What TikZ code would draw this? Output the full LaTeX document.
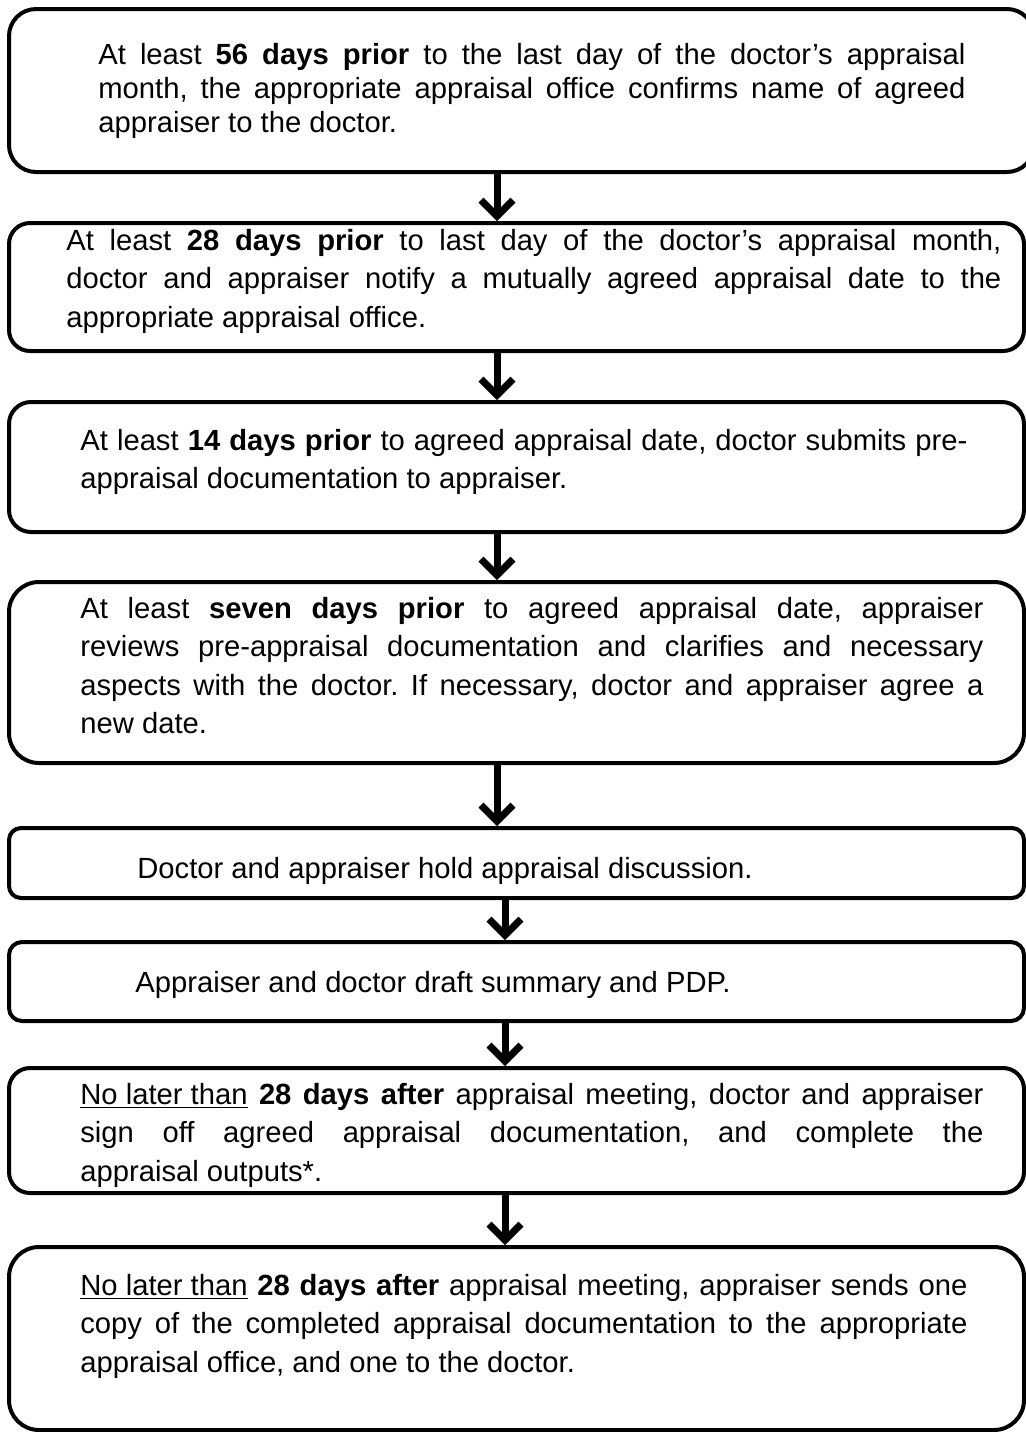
\documentclass[tikz,border=0pt]{standalone}
\usepackage{fontspec}
\setmainfont{Liberation Sans}
\usetikzlibrary{arrows.meta}
\frenchspacing

\begin{document}
\begin{tikzpicture}[
  x=0.5pt, y=-0.5pt,
  stepbox/.style={draw, line width=2pt, inner sep=0pt, minimum width=507.5pt},
  steptext/.style={anchor=base west, inner sep=0pt, align=justify, font=\fontsize{14.6}{19.3}\selectfont},
  flow/.style={-{Straight Barb[length=8pt, width=16pt]}, line width=3.5pt,
    preaction={draw=black!25, transform canvas={shift={(0.8pt,-0.8pt)}}}}
]
  \useasboundingbox (0,0) rectangle (1026,1432);
  \clip (0,0) rectangle (1026,1432);
  \coordinate (axis) at (497,0);
  \coordinate (axisb) at (505,0);

  % boxes
  \node[stepbox, minimum width=512.5pt, minimum height=81.5pt, rounded corners=13.5pt] (b1) at (521.5,90.5) {};
  \node[stepbox, minimum height=64pt, rounded corners=10.5pt] (b2) at (516.5,287) {};
  \node[stepbox, minimum height=65pt, rounded corners=11pt] (b3) at (516.5,467) {};
  \node[stepbox, minimum height=90.5pt, rounded corners=15pt] (b4) at (516.5,672.5) {};
  \node[stepbox, minimum height=35pt, rounded corners=6pt] (b5) at (516.5,863) {};
  \node[stepbox, minimum height=39.5pt, rounded corners=6.5pt] (b6) at (516.5,981.5) {};
  \node[stepbox, minimum height=62.5pt, rounded corners=10.5pt] (b7) at (516.5,1130.5) {};
  \node[stepbox, minimum height=91.5pt, rounded corners=15pt] (b8) at (516.5,1338.5) {};

  % texts
  \node[steptext, text width=433.5pt, font=\fontsize{14.6}{17}\selectfont] (t1) at (98,64)
    {At least \textbf{56 days prior} to the last day of the doctor’s appraisal\linebreak
     month, the appropriate appraisal office confirms name of agreed\linebreak
     appraiser to the doctor.};
  \node[steptext, text width=467.5pt] (t2) at (66,250)
    {At least \textbf{28 days prior} to last day of the doctor’s appraisal month,\linebreak
     doctor and appraiser notify a mutually agreed appraisal date to the\linebreak
     appropriate appraisal office.};
  \node[steptext, text width=443.5pt] (t3) at (80,450)
    {At least \textbf{14 days prior} to agreed appraisal date, doctor submits pre-\linebreak
     appraisal documentation to appraiser.};
  \node[steptext, text width=451.5pt] (t4) at (80,618)
    {At least \textbf{seven days prior} to agreed appraisal date, appraiser\linebreak
     reviews pre-appraisal documentation and clarifies and necessary\linebreak
     aspects with the doctor. If necessary, doctor and appraiser agree a\linebreak
     new date.};
  \node[steptext] (t5) at (137,878) {Doctor and appraiser hold appraisal discussion.};
  \node[steptext] (t6) at (135,992) {Appraiser and doctor draft summary and PDP.};
  \node[steptext, text width=451.5pt] (t7) at (80,1104)
    {\underline{No later than} \textbf{28 days after} appraisal meeting, doctor and appraiser\linebreak
     sign off agreed appraisal documentation, and complete the\linebreak
     appraisal outputs*.};
  \node[steptext, text width=443.5pt] (t8) at (80,1295)
    {\underline{No later than} \textbf{28 days after} appraisal meeting, appraiser sends one\linebreak
     copy of the completed appraisal documentation to the appropriate\linebreak
     appraisal office, and one to the doctor.};

  % arrows
  \draw[flow] (b1.south -| axis) -- (b2.north -| axis);
  \draw[flow] (b2.south -| axis) -- (b3.north -| axis);
  \draw[flow] (b3.south -| axis) -- (b4.north -| axis);
  \draw[flow] (b4.south -| axis) -- (b5.north -| axis);
  \draw[flow] (b5.south -| axisb) -- (b6.north -| axisb);
  \draw[flow] (b6.south -| axisb) -- (b7.north -| axisb);
  \draw[flow] (b7.south -| axisb) -- (b8.north -| axisb);
\end{tikzpicture}
\end{document}
